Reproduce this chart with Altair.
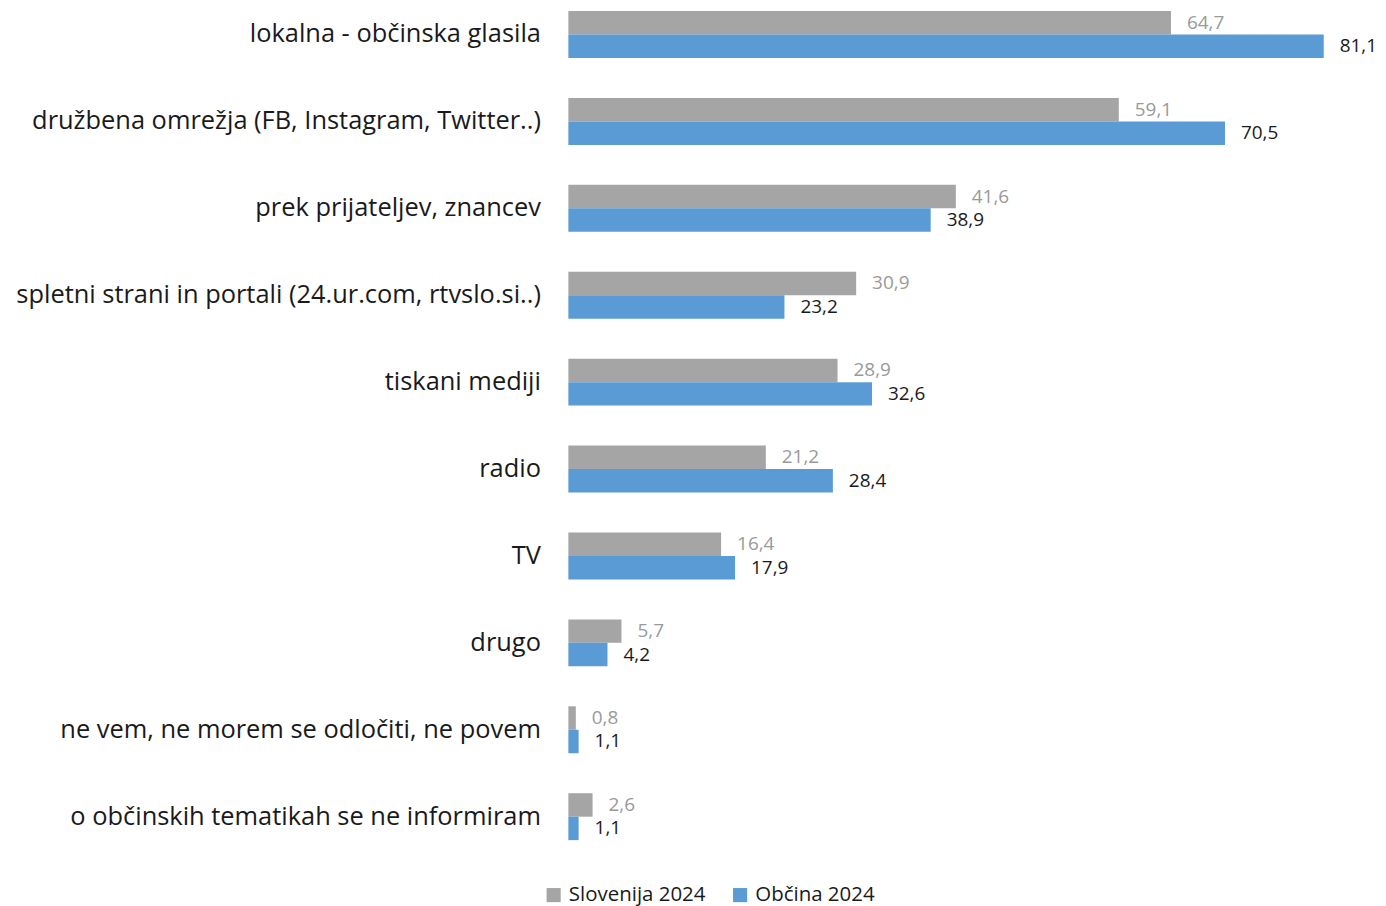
import altair as alt
import pandas as pd

categories = [
    "lokalna - občinska glasila",
    "družbena omrežja (FB, Instagram, Twitter..)",
    "prek prijateljev, znancev",
    "spletni strani in portali (24.ur.com, rtvslo.si..)",
    "tiskani mediji",
    "radio",
    "TV",
    "drugo",
    "ne vem, ne morem se odločiti, ne povem",
    "o občinskih tematikah se ne informiram",
]
series = ["Slovenija 2024", "Občina 2024"]
slovenija = [64.7, 59.1, 41.6, 30.9, 28.9, 21.2, 16.4, 5.7, 0.8, 2.6]
obcina = [81.1, 70.5, 38.9, 23.2, 32.6, 28.4, 17.9, 4.2, 1.1, 1.1]

rows = []
for c, a, b in zip(categories, slovenija, obcina):
    rows.append({"category": c, "series": series[0], "value": a})
    rows.append({"category": c, "series": series[1], "value": b})
df = pd.DataFrame(rows)

FONT = "Open Sans"

base = alt.Chart(df).encode(
    y=alt.Y("category:N", sort=categories, title=None,
            scale=alt.Scale(paddingInner=0.46, paddingOuter=0.02),
            axis=alt.Axis(domain=False, ticks=False, labelPadding=28,
                          labelFontSize=25.5, labelFont=FONT, labelColor="#1a1a1a",
                          labelLimit=700, minExtent=562, maxExtent=562)),
    yOffset=alt.YOffset("series:N", sort=series),
)

bars = base.mark_bar().encode(
    x=alt.X("value:Q", scale=alt.Scale(domain=[0, 85], nice=False), axis=None),
    color=alt.Color("series:N", sort=series,
                    scale=alt.Scale(domain=series, range=["#A5A5A5", "#5B9BD5"]),
                    legend=alt.Legend(title=None, orient="none", direction="horizontal",
                                      legendX=-25, legendY=878, symbolType="square",
                                      symbolSize=200, symbolStrokeWidth=0,
                                      labelFont=FONT, labelFontSize=20.5,
                                      labelColor="#1a1a1a", columnPadding=24,
                                      labelOffset=5)),
)

labels = base.mark_text(align="left", baseline="middle", dx=16, font=FONT, fontSize=19).encode(
    x=alt.X("value:Q"),
    text=alt.Text("label:N"),
    color=alt.condition("datum.series == 'Slovenija 2024'", alt.value("#9a9a9a"), alt.value("#1a1a1a")),
).transform_calculate(label="replace(format(datum.value, '.1f'), '.', ',')")

chart = (bars + labels).properties(width=794, height=835, padding=0).configure_view(stroke=None)

chart.save("out.html", embed_options={"renderer": "svg", "actions": False})
